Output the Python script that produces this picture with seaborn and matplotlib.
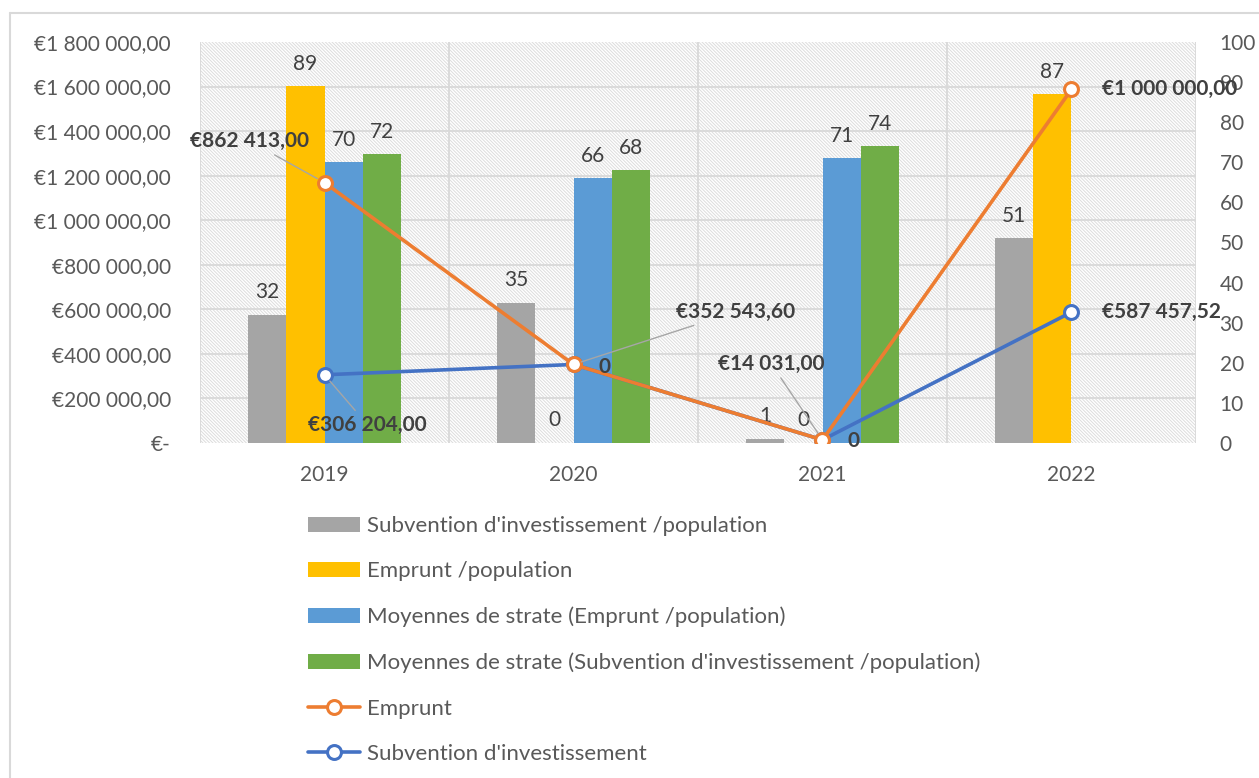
import matplotlib
matplotlib.use("Agg")
import matplotlib.pyplot as plt
import seaborn as sns
import numpy as np
import pandas as pd
from matplotlib.patches import Rectangle, Patch
from matplotlib.lines import Line2D
from matplotlib.ticker import FuncFormatter

# data
years = ["2019", "2020", "2021", "2022"]
subv_pop = [32, 35, 1, 51]
emprunt_pop = [89, 0, 0, 87]
moy_emprunt_pop = [70, 66, 71, np.nan]
moy_subv_pop = [72, 68, 74, np.nan]
subvention = [306204.00, 352543.60, 14031.00, 587457.52]
emprunt = [862413.00, 0.0, 0.0, 1000000.00]

bar_series = [
    "Subvention d'investissement /population",
    "Emprunt /population",
    "Moyennes de strate (Emprunt /population)",
    "Moyennes de strate (Subvention d'investissement /population)",
]
bar_colors = ["#A5A5A5", "#FFC000", "#5B9BD5", "#70AD47"]
orange = "#ED7D31"
blue = "#4472C4"
grid_c = "#D9D9D9"
txt_c = "#595959"
lab_c = "#404040"

sns.set_style("white")
plt.rcParams["font.family"] = ["Lato", "DejaVu Sans"]
plt.rcParams["hatch.color"] = "#DCDCDC"
plt.rcParams["hatch.linewidth"] = 0.7
FS = 15


def fmt_eur(v):
    if v == 0:
        return "€-"
    return "€" + f"{v:,.2f}".replace(",", " ").replace(".", ",")


fig = plt.figure(figsize=(12.59, 7.78), dpi=100)
ax = fig.add_axes([200 / 1259, 1 - 443 / 778, 996 / 1259, 401 / 778])

# hatched plot background
ax.add_patch(Rectangle((0, 0), 1, 1, transform=ax.transAxes, facecolor="white",
                       edgecolor="#DCDCDC", hatch="\\" * 10, linewidth=0, zorder=0.1))

df = pd.DataFrame({
    "Année": years * 4,
    "Série": np.repeat(bar_series, len(years)),
    "Valeur": subv_pop + emprunt_pop + moy_emprunt_pop + moy_subv_pop,
}).dropna()

sns.barplot(data=df, x="Année", y="Valeur", hue="Série", hue_order=bar_series,
            order=years, palette=bar_colors, saturation=1, width=0.615, gap=0,
            errorbar=None, legend=False, linewidth=0, ax=ax)
for c in ax.containers:
    ax.bar_label(c, fmt="{:g}", padding=9, color=lab_c, fontsize=FS)

ax2 = ax.twinx()
ax.yaxis.tick_right()
ax2.yaxis.tick_left()
ax2.patch.set_visible(False)

xpos = np.arange(len(years))
emprunt_top = np.add(subvention, emprunt)  # stacked line, as in the source chart
sns.lineplot(x=xpos, y=subvention, ax=ax2, color=blue, linewidth=2.6, marker="o",
             markersize=10, markerfacecolor="white", markeredgecolor=blue,
             markeredgewidth=2.2, zorder=3)
sns.lineplot(x=xpos, y=emprunt_top, ax=ax2, color=orange, linewidth=2.6, marker="o",
             markersize=10, markerfacecolor="white", markeredgecolor=orange,
             markeredgewidth=2.2, zorder=4)

# axes & grid
ax.set_xlim(-0.5, 3.5)
ax.set_ylim(0, 100)
ax2.set_ylim(0, 1800000)
ax.set_xlabel("")
ax.set_ylabel("")
ax2.set_ylabel("")
ax.set_yticks(np.arange(0, 101, 10))
ax.set_yticks(np.linspace(0, 100, 10), minor=True)
ax.set_xticks(np.arange(-0.5, 4, 1), minor=True)
ax.set_axisbelow(True)
ax.grid(which="minor", color=grid_c, linewidth=1.3)
ax.grid(which="major", visible=False)
ax2.set_yticks(np.arange(0, 1800001, 200000))
ax2.yaxis.set_major_formatter(FuncFormatter(lambda v, p: fmt_eur(v)))
ax.tick_params(axis="x", which="major", length=0, pad=16, labelsize=FS, labelcolor=txt_c)
ax.tick_params(axis="x", which="minor", length=6, width=1.3, color=grid_c)
ax.tick_params(axis="y", which="both", length=0, pad=17, labelsize=FS, labelcolor=txt_c)
ax2.tick_params(axis="y", length=0, pad=21, labelsize=FS, labelcolor=txt_c)
for a in (ax, ax2):
    for s in a.spines.values():
        s.set_visible(False)

# data labels of the lines (offsets in points)
lab_style = dict(textcoords="offset points", fontsize=FS, fontweight="bold", color=lab_c,
                 annotation_clip=False)
lead = dict(arrowstyle="-", color="#A6A6A6", lw=1, shrinkA=1, shrinkB=6)
emp_off = [(-54, 30, "center", True), (22, -2, "center", False),
           (22, -1, "center", False), (22, 0, "left", False)]
sub_off = [(31, -36, "center", True), (117, 38, "center", True),
           (-37, 55, "center", True), (22, 0, "left", False)]
for i in range(len(years)):
    dx, dy, ha, ln = emp_off[i]
    t = fmt_eur(emprunt[i]) if emprunt[i] else "0"
    ax2.annotate(t, xy=(xpos[i], emprunt_top[i]), xytext=(dx, dy), ha=ha, va="center",
                 arrowprops=lead if ln else None, zorder=6, **lab_style)
    dx, dy, ha, ln = sub_off[i]
    t = fmt_eur(subvention[i])
    ax2.annotate(t, xy=(xpos[i], subvention[i]), xytext=(dx, dy), ha=ha, va="center",
                 arrowprops=lead if ln else None, zorder=6, **lab_style)

# legend
handles = [Patch(facecolor=c, linewidth=0) for c in bar_colors]
handles += [Line2D([], [], color=col, lw=2.6, marker="o", markersize=10,
                   markerfacecolor="white", markeredgecolor=col, markeredgewidth=2.2)
            for col in (orange, blue)]
labels = bar_series + ["Emprunt", "Subvention d'investissement"]
leg = fig.legend(handles, labels, loc="upper left",
                 bbox_to_anchor=(308 / 1259, 1 - 516 / 778), frameon=False,
                 fontsize=16, handlelength=2.35, handleheight=0.65, handletextpad=0.3,
                 labelspacing=1.14, borderpad=0, borderaxespad=0)
for t in leg.get_texts():
    t.set_color(txt_c)

# chart area border (cropped at right and bottom)
fig.add_artist(Line2D([10 / 1259, 1], [1 - 13 / 778] * 2, color=grid_c, lw=1.5))
fig.add_artist(Line2D([10 / 1259] * 2, [0, 1 - 13 / 778], color=grid_c, lw=1.5))

fig.savefig("out.png", dpi=100)
